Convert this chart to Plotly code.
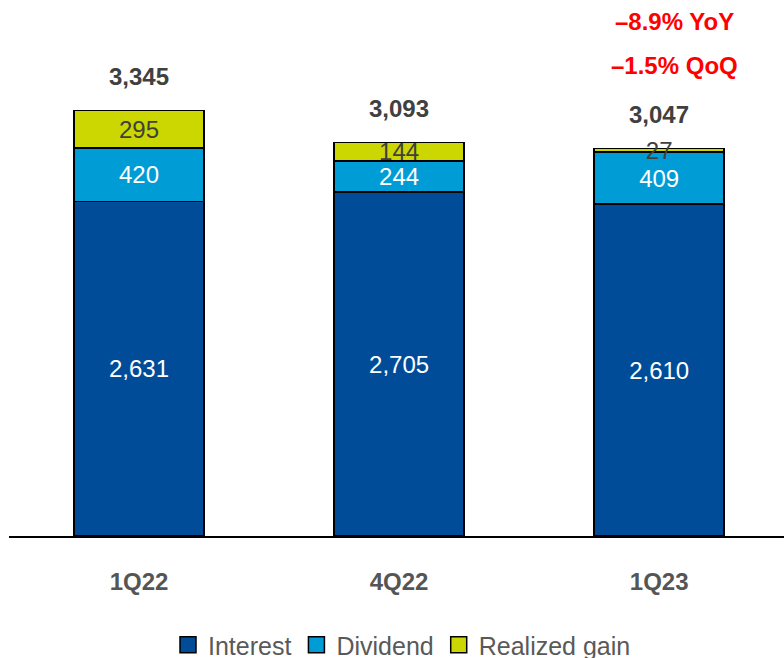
import plotly.graph_objects as go

# Quarterly investment income breakdown
quarters = ["1Q22", "4Q22", "1Q23"]
interest = [2631, 2705, 2610]
dividend = [420, 244, 409]
realized_gain = [295, 144, 27]
totals = [3345, 3093, 3047]
change_notes = ["\u20138.9% YoY", "\u20131.5% QoQ"]

FONT = "Liberation Sans, Arial, Helvetica, sans-serif"
series = [
    ("Interest", interest, "#004C99", "white"),
    ("Dividend", dividend, "#009CD6", "white"),
    ("Realized gain", realized_gain, "#CCD600", "#404040"),
]

fig = go.Figure()
for name, vals, color, txtcolor in series:
    fig.add_trace(go.Bar(
        name=name,
        x=quarters,
        y=vals,
        width=0.5,
        marker=dict(color=color, line=dict(color="black", width=1.5)),
        text=[f"{v:,}" for v in vals],
        textposition="inside",
        insidetextanchor="middle",
        constraintext="none",
        textangle=0,
        textfont=dict(family=FONT, size=24, color=txtcolor),
        hoverinfo="skip",
        showlegend=False,
    ))

# Legend entries with larger square swatches
for name, _, color, _ in series:
    fig.add_trace(go.Scatter(
        name=name, x=[None], y=[None], mode="markers",
        marker=dict(symbol="square", size=16, color=color,
                    line=dict(color="black", width=1.5)),
        hoverinfo="skip", showlegend=True,
    ))

# Totals above each stack
for q, t in zip(quarters, totals):
    fig.add_annotation(
        x=q, y=t, text=f"<b>{t:,}</b>", showarrow=False,
        yanchor="middle", yshift=34,
        font=dict(family=FONT, size=24, color="#404040"),
    )

# Change callouts in the top-right corner
for note, ypix in zip(change_notes, [22, 66]):
    fig.add_annotation(
        xref="paper", yref="paper", x=(674 - 9) / 775, y=1 - ypix / 536,
        text=f"<b>{note}</b>", showarrow=False,
        xanchor="center", yanchor="middle",
        font=dict(family=FONT, size=24, color="#FF0000"),
    )

fig.update_layout(
    width=784, height=658,
    margin=dict(l=9, r=0, t=0, b=122),
    barmode="stack",
    plot_bgcolor="white",
    paper_bgcolor="white",
    font=dict(family=FONT),
    showlegend=True,
    legend=dict(
        orientation="h",
        xref="paper", yref="container",
        x=(402 - 9) / 775, xanchor="center",
        y=1 - 645 / 658, yanchor="middle",
        font=dict(family=FONT, size=25, color="#595959"),
        itemwidth=30,
        itemsizing="trace",
        traceorder="normal",
    ),
    xaxis=dict(
        range=[-0.5, 2.48],
        showline=True, linecolor="black", linewidth=2,
        showgrid=False, ticks="", ticklabelstandoff=23,
        tickfont=dict(family=FONT, size=24, color="#555555"),
        fixedrange=True,
    ),
    yaxis=dict(
        range=[0, 4215],
        visible=False, showgrid=False, zeroline=False,
        fixedrange=True,
    ),
)
fig.update_xaxes(tickvals=quarters, ticktext=[f"<b>{q}</b>" for q in quarters])

fig.write_html("out.html")
